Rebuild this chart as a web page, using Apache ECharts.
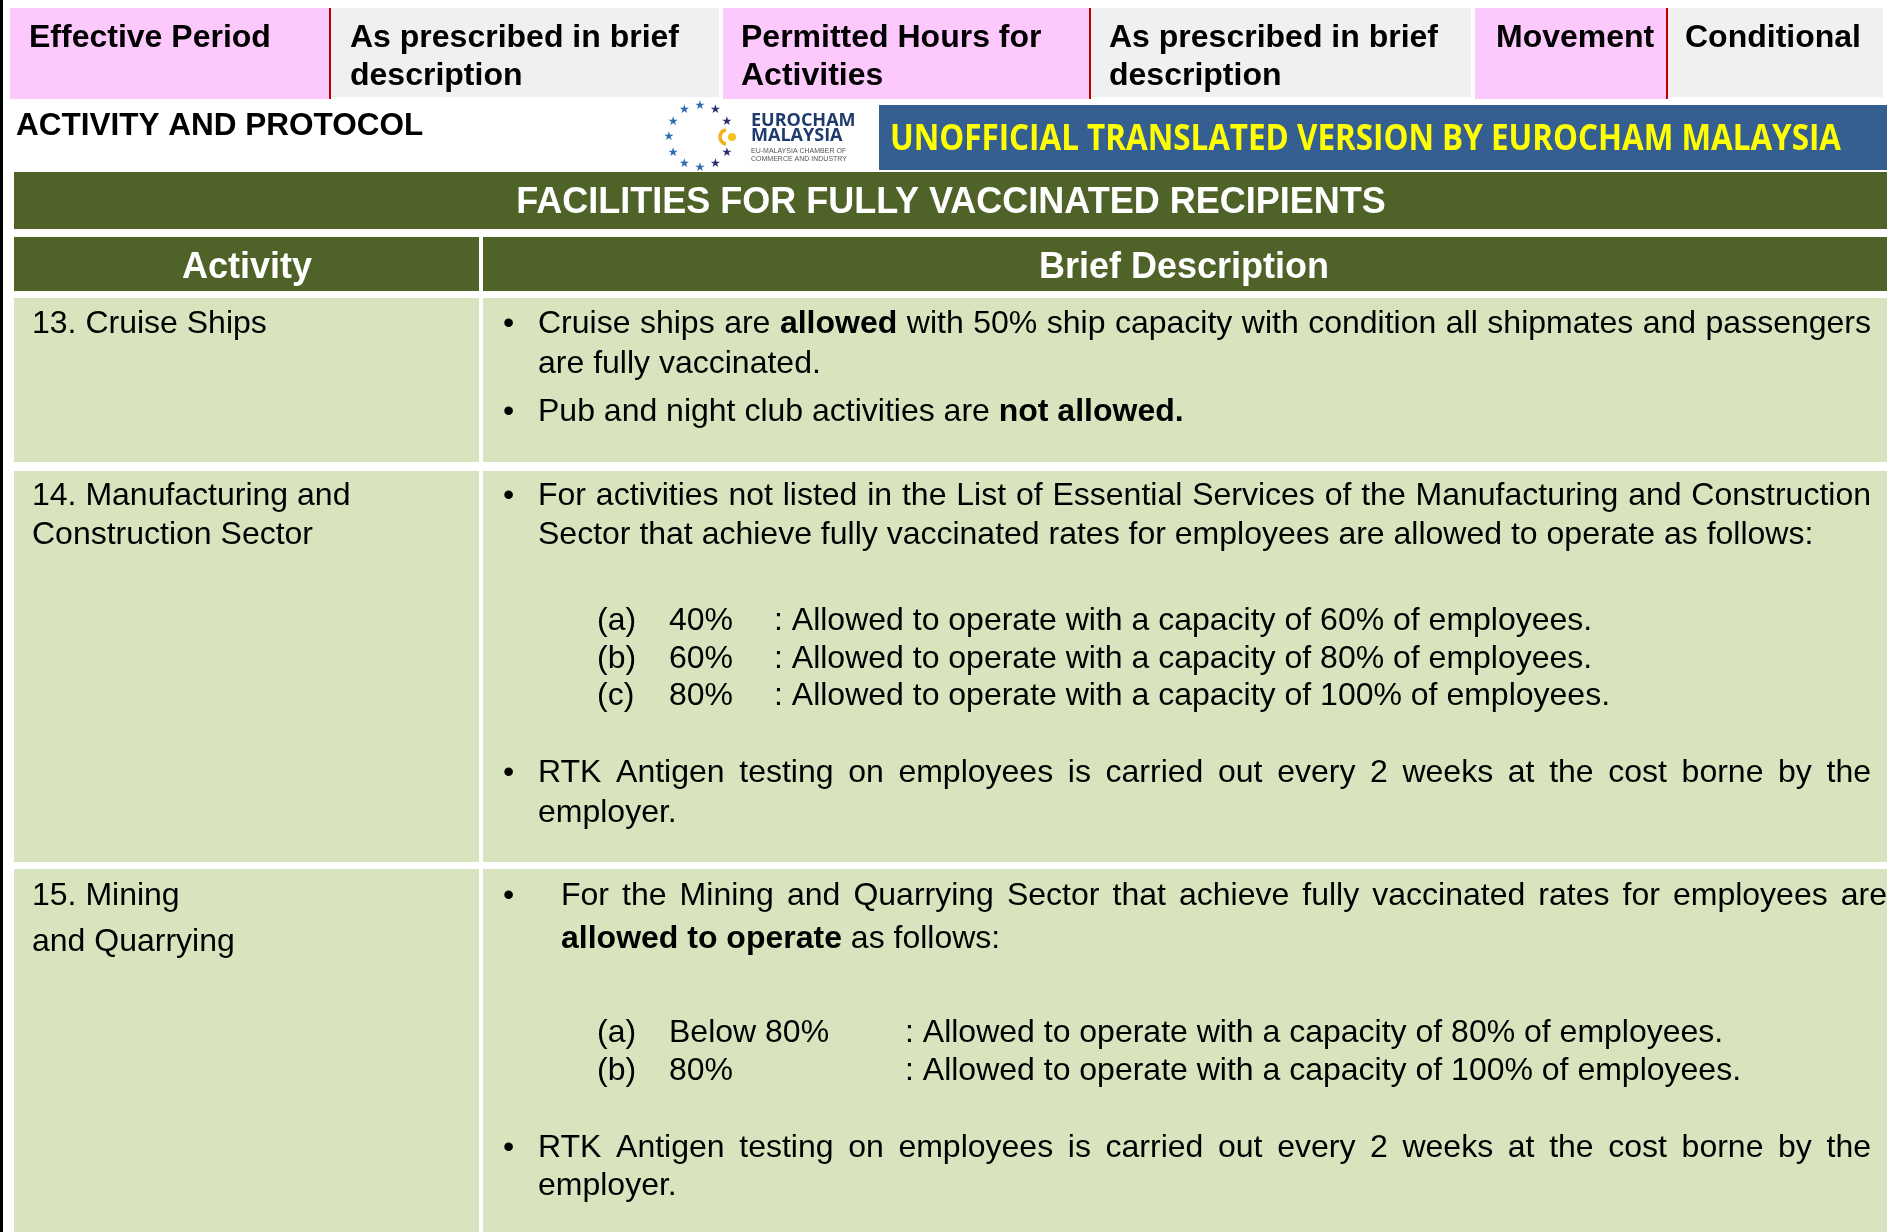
<!DOCTYPE html>
<html>
<head>
<meta charset="utf-8">
<title>Activity and Protocol</title>
<script src="https://cdn.jsdelivr.net/npm/echarts@6/dist/echarts.min.js"></script>
<style>
html,body{margin:0;padding:0;background:#fff;}
#chart{width:1887px;height:1232px;}
</style>
</head>
<body>
<div id="chart"></div>
<script>
// texts of the page
var topLabels = [['Effective Period'], ['As prescribed in brief', 'description'], ['Permitted Hours for', 'Activities'],
                 ['As prescribed in brief', 'description'], ['Movement'], ['Conditional']];
var pageHeading = 'ACTIVITY AND PROTOCOL';
var bannerText = 'UNOFFICIAL TRANSLATED VERSION BY EUROCHAM MALAYSIA';
var logoText = ['EUROCHAM', 'MALAYSIA', 'EU-MALAYSIA CHAMBER OF', 'COMMERCE AND INDUSTRY'];
var titleText = 'FACILITIES FOR FULLY VACCINATED RECIPIENTS';
var columnHeads = ['Activity', 'Brief Description'];
var activities = [['13. Cruise Ships'], ['14. Manufacturing and', 'Construction Sector'], ['15. Mining', 'and Quarrying']];

// ** marks bold words
var desc13 = [
    {bullet: true, justify: true, text: 'Cruise ships are **allowed** with 50% ship capacity with condition all shipmates and passengers'},
    {text: 'are fully vaccinated.'},
    {bullet: true, text: 'Pub and night club activities are **not allowed.**'}
];
var desc14 = [
    {bullet: true, justify: true, text: 'For activities not listed in the List of Essential Services of the Manufacturing and Construction'},
    {text: 'Sector that achieve fully vaccinated rates for employees are allowed to operate as follows:'},
    {sub: ['(a)', '40%', ': Allowed to operate with a capacity of 60% of employees.']},
    {sub: ['(b)', '60%', ': Allowed to operate with a capacity of 80% of employees.']},
    {sub: ['(c)', '80%', ': Allowed to operate with a capacity of 100% of employees.']},
    {bullet: true, justify: true, text: 'RTK Antigen testing on employees is carried out every 2 weeks at the cost borne by the'},
    {text: 'employer.'}
];
var desc15 = [
    {bullet: true, justify: true, text: 'For the Mining and Quarrying Sector that achieve fully vaccinated rates for employees are'},
    {text: '**allowed to operate** as follows:'},
    {sub: ['(a)', 'Below 80%', ': Allowed to operate with a capacity of 80% of employees.']},
    {sub: ['(b)', '80%', ': Allowed to operate with a capacity of 100% of employees.']},
    {bullet: true, justify: true, text: 'RTK Antigen testing on employees is carried out every 2 weeks at the cost borne by the'},
    {text: 'employer.'}
];
var descriptions = [desc13, desc14, desc15];

// layout
var topX = [10, 331, 723, 1091, 1475, 1668, 1887];
var topFill = ['#fdc9fd', '#f0f0f0', '#fdc9fd', '#f0f0f0', '#fdc9fd', '#f0f0f0'];
var topTextX = [29, 350, 741, 1109, 1496, 1685];
var rowTop = [298, 471, 869];
var rowBottom = [462, 862, 1232];
var activityY = [[322], [494, 533], [894, 940]];
var descY = [[322, 362, 410], [494, 533, 619, 657, 694, 771, 811], [894, 937, 1031, 1069, 1146, 1184]];
var indentLines = [[], [], [0, 1]];
var subX = [[597, 669, 774], [597, 669, 905]];

var FONT = '"Liberation Sans", Arial, sans-serif';
var BODY = 32;
var DY = 2; // the glyphs sit a little low in the original

var measureCtx = document.createElement('canvas').getContext('2d');
function textWidth(s, size, bold, family) {
    measureCtx.font = (bold ? 'bold ' : '') + size + 'px ' + (family || FONT);
    return measureCtx.measureText(s).width;
}

var els = [];
function rect(x, y, w, h, fill) {
    els.push({type: 'rect', shape: {x: x, y: y, width: w, height: h}, style: {fill: fill}, silent: true});
}
function label(x, y, s, o) {
    o = o || {};
    els.push({
        type: 'text', x: x, y: y + DY, silent: true, scaleX: o.scaleX || 1,
        style: {
            text: s, fill: o.fill || '#000', fontSize: o.size || BODY, fontFamily: o.family || FONT,
            fontWeight: o.bold ? 'bold' : 'normal', align: o.align || 'left', verticalAlign: 'middle'
        }
    });
}

// one line of body text, word by word so it can be justified
function bodyLine(x, y, right, text, justify) {
    var words = [];
    text.split('**').forEach(function (seg, i) {
        seg.split(' ').forEach(function (w) {
            if (w) words.push({w: w, bold: i % 2 === 1});
        });
    });
    var sp = textWidth(' ', BODY, false);
    var total = 0;
    words.forEach(function (d) { d.width = textWidth(d.w, BODY, d.bold); total += d.width; });
    var gap = justify && words.length > 1 ? (right - x - total) / (words.length - 1) : sp;
    var cx = x;
    words.forEach(function (d) {
        label(cx, y, d.w, {bold: d.bold});
        cx += d.width + gap;
    });
}

// left border line
rect(0, 0, 3, 1232, '#000');

// top strip
topLabels.forEach(function (lines, i) {
    rect(topX[i], 8, topX[i + 1] - topX[i] - (i % 2 === 0 ? 2 : 4), i % 2 === 0 ? 91 : 89, topFill[i]);
    if (i % 2 === 0) rect(topX[i + 1] - 2, 8, 2, 91, '#c00000');
    lines.forEach(function (s, j) {
        label(topTextX[i], 36 + j * 38, s, {bold: true, size: 32});
    });
});

// heading and logo
label(16, 124, pageHeading, {bold: true, size: 31.5});
for (var k = 0; k < 12; k++) {
    if (k === 3) continue;
    var ang = (90 - k * 30) * Math.PI / 180;
    label(700 + 31 * Math.cos(ang), 135 - 31 * Math.sin(ang), '★',
          {size: 12, family: '"DejaVu Sans"', align: 'center', fill: (k >= 1 && k <= 5) ? '#2b2f6f' : '#2e6db4'});
}
els.push({type: 'arc', shape: {cx: 727, cy: 137, r: 7, startAngle: Math.PI * 0.55, endAngle: Math.PI * 1.45},
          style: {stroke: '#f2b01e', lineWidth: 3.5, fill: null}, silent: true});
els.push({type: 'circle', shape: {cx: 732, cy: 137, r: 4}, style: {fill: '#f7c21b'}, silent: true});
label(751, 119, logoText[0], {bold: true, size: 18, fill: '#1f3b6e', family: '"Open Sans"'});
label(751, 134, logoText[1], {bold: true, size: 18, fill: '#1f3b6e', family: '"Open Sans"'});
label(751, 149, logoText[2], {size: 7, fill: '#555'});
label(751, 157, logoText[3], {size: 7, fill: '#555'});

// banner, squeezed to the width of the original lettering
rect(879, 105, 1008, 65, '#365f91');
var bannerFamily = '"Open Sans"';
var bannerScale = 951 / textWidth(bannerText, 35, true, bannerFamily);
label(890, 138, bannerText, {bold: true, size: 35, fill: '#ffff00', family: bannerFamily, scaleX: bannerScale});

// title and column heads
rect(14, 172, 1873, 57, '#4f6228');
label(951, 201, titleText, {bold: true, size: 36, fill: '#fff', align: 'center'});
rect(14, 237, 465, 54, '#4f6228');
rect(483, 237, 1404, 54, '#4f6228');
label(247, 266, columnHeads[0], {bold: true, size: 36, fill: '#fff', align: 'center'});
label(1184, 266, columnHeads[1], {bold: true, size: 36, fill: '#fff', align: 'center'});

// rows
activities.forEach(function (lines, r) {
    rect(14, rowTop[r], 465, rowBottom[r] - rowTop[r], '#d7e4bd');
    rect(483, rowTop[r], 1404, rowBottom[r] - rowTop[r], '#d7e4bd');
    lines.forEach(function (s, j) { label(32, activityY[r][j], s); });
    descriptions[r].forEach(function (ln, j) {
        var y = descY[r][j];
        if (ln.sub) {
            var xs = subX[r === 1 ? 0 : 1];
            ln.sub.forEach(function (s, m) { label(xs[m], y, s); });
            return;
        }
        if (ln.bullet) label(503, y, '•');
        var indented = indentLines[r].indexOf(j) >= 0;
        bodyLine(indented ? 561 : 538, y, indented ? 1887 : 1871, ln.text, ln.justify);
    });
});

var chart = echarts.init(document.getElementById('chart'));
chart.setOption({animation: false, graphic: {elements: els}});
</script>
</body>
</html>
